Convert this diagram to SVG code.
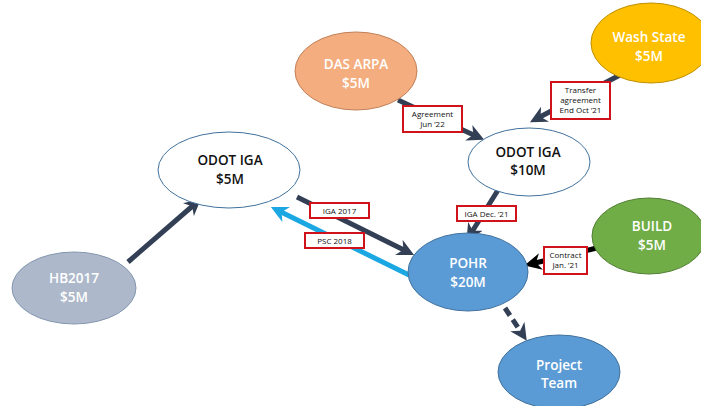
<svg xmlns="http://www.w3.org/2000/svg" width="701" height="406" viewBox="0 0 701 406">
<defs>
<style>
.lbl{font-family:"Open Sans","Liberation Sans",sans-serif;font-weight:600;font-size:13.5px;text-anchor:middle}
.w{fill:#ffffff}
.k{fill:#111111}
.box{fill:#ffffff;stroke:#d0121b;stroke-width:2}
.bt{font-family:"Open Sans","Liberation Sans",sans-serif;font-size:8px;text-anchor:middle;fill:#111}
.c{fill:none;stroke-width:5}
</style>
<marker id="ad" viewBox="0 0 10 10" refX="6" refY="5" markerWidth="3.4" markerHeight="3.4" orient="auto" markerUnits="strokeWidth"><path d="M0,0L10,5L0,10L3,5z" fill="#323f55"/></marker>
<marker id="ab" viewBox="0 0 10 10" refX="6" refY="5" markerWidth="3.4" markerHeight="3.4" orient="auto" markerUnits="strokeWidth"><path d="M0,0L10,5L0,10L3,5z" fill="#1aa7e2"/></marker>
<marker id="ak" viewBox="0 0 10 10" refX="6" refY="5" markerWidth="3.4" markerHeight="3.4" orient="auto" markerUnits="strokeWidth"><path d="M0,0L10,5L0,10L3,5z" fill="#000000"/></marker>
</defs>
<rect width="701" height="406" fill="#ffffff"/>
<g id="connectors">
<line class="c" x1="398" y1="100" x2="478" y2="137" stroke="#323f55" marker-end="url(#ad)"/>
<line class="c" x1="620" y1="75" x2="536" y2="119" stroke="#323f55" marker-end="url(#ad)"/>
<line class="c" x1="498" y1="190" x2="470" y2="235" stroke="#323f55" marker-end="url(#ad)"/>
<line class="c" x1="297" y1="197" x2="408" y2="252" stroke="#323f55" marker-end="url(#ad)"/>
<line class="c" x1="128" y1="262" x2="196" y2="203" stroke="#323f55" marker-end="url(#ad)"/>
<line class="c" x1="409" y1="275" x2="277" y2="210" stroke="#1aa7e2" marker-end="url(#ab)"/>
<line class="c" x1="605" y1="246" x2="531" y2="264" stroke="#000000" marker-end="url(#ak)"/>
<line class="c" x1="505" y1="308" x2="523" y2="335" stroke="#323f55" stroke-dasharray="9,5" marker-end="url(#ad)"/>
</g>
<g id="wash-state"><ellipse cx="651" cy="43" rx="60" ry="40" fill="#ffc000" stroke="#bf9000" stroke-width="1"/><text class="lbl w" x="649" y="42">Wash State</text><text class="lbl w" x="649" y="61">$5M</text></g>
<g id="das-arpa"><ellipse cx="356" cy="71" rx="61" ry="39" fill="#f4ad7e" stroke="#c0805a" stroke-width="1"/><text class="lbl w" x="356" y="69">DAS ARPA</text><text class="lbl w" x="356" y="88">$5M</text></g>
<g id="odot-10"><ellipse cx="529" cy="162" rx="61" ry="34" fill="#ffffff" stroke="#41719c" stroke-width="1"/><text class="lbl k" x="528" y="157">ODOT IGA</text><text class="lbl k" x="528" y="175">$10M</text></g>
<g id="odot-5"><ellipse cx="229" cy="170" rx="71" ry="38" fill="#ffffff" stroke="#41719c" stroke-width="1"/><text class="lbl k" x="230" y="165">ODOT IGA</text><text class="lbl k" x="230" y="184">$5M</text></g>
<g id="hb2017"><ellipse cx="74" cy="288" rx="62" ry="36" fill="#adb9ca" stroke="#8497b0" stroke-width="1"/><text class="lbl w" x="74" y="283">HB2017</text><text class="lbl w" x="74" y="302">$5M</text></g>
<g id="pohr"><ellipse cx="468" cy="272" rx="60" ry="39" fill="#5b9bd5" stroke="#41719c" stroke-width="1"/><text class="lbl w" x="468" y="268">POHR</text><text class="lbl w" x="468" y="287">$20M</text></g>
<g id="build"><ellipse cx="649" cy="236" rx="57" ry="38" fill="#70ad47" stroke="#507e32" stroke-width="1"/><text class="lbl w" x="652" y="231">BUILD</text><text class="lbl w" x="652" y="250">$5M</text></g>
<g id="project-team"><ellipse cx="559" cy="372" rx="61" ry="37" fill="#5b9bd5" stroke="#41719c" stroke-width="1"/><text class="lbl w" x="559" y="370">Project</text><text class="lbl w" x="559" y="388">Team</text></g>
<g id="labels">
<rect class="box" x="403" y="106" width="59" height="26"/><text class="bt" x="432.5" y="117">Agreement</text><text class="bt" x="432.5" y="127">Jun ’22</text>
<rect class="box" x="551" y="82" width="59" height="37"/><text class="bt" x="580.5" y="93">Transfer</text><text class="bt" x="580.5" y="103">agreement</text><text class="bt" x="580.5" y="113">End Oct ’21</text>
<rect class="box" x="310" y="203" width="59" height="15"/><text class="bt" x="339.5" y="213.5">IGA 2017</text>
<rect class="box" x="305" y="233" width="59" height="15"/><text class="bt" x="334.5" y="243.5">PSC 2018</text>
<rect class="box" x="457" y="206" width="59" height="15"/><text class="bt" x="486.5" y="216.5">IGA Dec. ’21</text>
<rect class="box" x="544" y="247" width="43" height="27"/><text class="bt" x="565.5" y="258">Contract</text><text class="bt" x="565.5" y="268">Jan. ’21</text>
</g>
</svg>
